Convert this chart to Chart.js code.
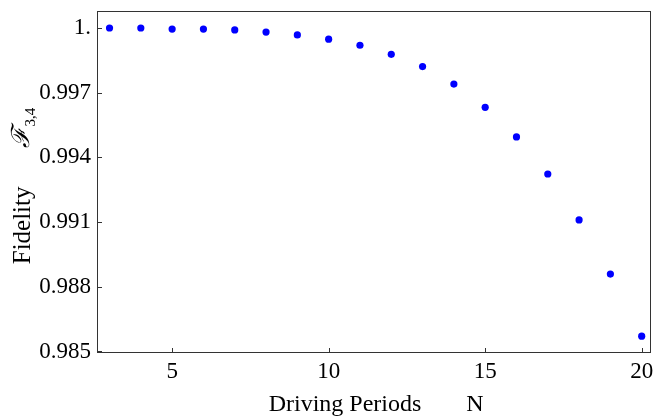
<!DOCTYPE html>
<html>
<head>
<meta charset="utf-8">
<script src="https://cdn.jsdelivr.net/npm/chart.js@4.4.0/dist/chart.umd.min.js"></script>
<style>
  html, body { margin: 0; padding: 0; background: #fff; }
  #wrap { width: 655px; height: 417px; }
</style>
</head>
<body>
<div id="wrap"><canvas id="c" width="655" height="417"></canvas></div>
<script>
const periods = [3, 4, 5, 6, 7, 8, 9, 10, 11, 12, 13, 14, 15, 16, 17, 18, 19, 20];
const fidelity = [1.00000, 1.00000, 0.99995, 0.99995, 0.99991, 0.99981, 0.99968, 0.99948, 0.99920,
                  0.99878, 0.99821, 0.99740, 0.99632, 0.99495, 0.99323, 0.99110, 0.98859, 0.98571];
const xTicks = [5, 10, 15, 20];
const yTicks = [0.985, 0.988, 0.991, 0.994, 0.997, 1.0];
const xTitle = "Driving Periods";
const xSym = "N";
const yTitle = "Fidelity";
const ySym = "\u2131";
const ySub = "3,4";

const FONT = "'Liberation Serif', 'Times New Roman', serif";

const framePlugin = {
  id: 'frame',
  afterDraw(chart) {
    const ctx = chart.ctx, a = chart.chartArea;
    const xs = chart.scales.x, ys = chart.scales.y;
    ctx.save();
    ctx.strokeStyle = '#333';
    ctx.lineWidth = 1;
    ctx.strokeRect(Math.round(a.left) + 0.5, Math.round(a.top) + 0.5,
                   Math.round(a.right - a.left) - 1, Math.round(a.bottom - a.top) - 1);
    ctx.beginPath();
    xTicks.forEach(v => {
      const px = Math.round(xs.getPixelForValue(v)) + 0.5;
      ctx.moveTo(px, a.bottom);
      ctx.lineTo(px, a.bottom - 5);
    });
    yTicks.forEach(v => {
      const py = Math.round(ys.getPixelForValue(v)) + 0.5;
      ctx.moveTo(a.left, py);
      ctx.lineTo(a.left + 5, py);
    });
    ctx.stroke();

    // x title
    ctx.fillStyle = '#000';
    ctx.font = "24px " + FONT;
    ctx.textBaseline = 'alphabetic';
    ctx.textAlign = 'left';
    const gap = 45;
    const w1 = ctx.measureText(xTitle).width;
    const w2 = ctx.measureText(xSym).width;
    const cx = (a.left + a.right) / 2 + 2;
    let sx = cx - (w1 + gap + w2) / 2;
    ctx.fillText(xTitle, sx, 411);
    ctx.fillText(xSym, sx + w1 + gap, 411);

    // y title (rotated)
    ctx.translate(30, 0);
    ctx.rotate(-Math.PI / 2);
    ctx.font = "25px " + FONT;
    const wy1 = ctx.measureText(yTitle).width;
    ctx.font = "italic 25px 'DejaVu Serif', " + FONT;
    const wy2 = ctx.measureText(ySym).width;
    ctx.font = "15px " + FONT;
    const wy3 = ctx.measureText(ySub).width;
    const ygap = 38;
    const total = wy1 + ygap + wy2 + 1 + wy3;
    const cy = (a.top + a.bottom) / 2 + 4;
    let s = -cy - total / 2;
    ctx.font = "25px " + FONT;
    ctx.fillText(yTitle, s, 0);
    s += wy1 + ygap;
    ctx.font = "italic 25px 'DejaVu Serif', " + FONT;
    ctx.fillText(ySym, s, -1);
    s += wy2 + 1;
    ctx.font = "15px " + FONT;
    ctx.fillText(ySub, s, 5);
    ctx.restore();
  }
};

new Chart(document.getElementById('c'), {
  type: 'scatter',
  data: {
    datasets: [{
      data: periods.map((n, i) => ({ x: n, y: fidelity[i] })),
      backgroundColor: '#0000ff',
      borderColor: '#0000ff',
      borderWidth: 0,
      pointRadius: 3.6,
      pointHoverRadius: 3.6
    }]
  },
  options: {
    responsive: false,
    animation: false,
    events: [],
    layout: { padding: { left: 0, right: 3, top: 11, bottom: 0 } },
    plugins: { legend: { display: false }, tooltip: { enabled: false } },
    scales: {
      x: {
        type: 'linear',
        min: 2.6,
        max: 20.31,
        afterBuildTicks: s => { s.ticks = xTicks.map(v => ({ value: v })); },
        afterFit: s => { s.height = 64; s.paddingLeft = 0; s.paddingRight = 0; s.paddingTop = 0; s.paddingBottom = 0; },
        grid: { display: false, drawTicks: false },
        border: { display: false },
        ticks: {
          padding: 5,
          color: '#000',
          font: { family: FONT, size: 23 },
          maxRotation: 0,
          callback: v => String(v)
        }
      },
      y: {
        type: 'linear',
        min: 0.98493,
        max: 1.000788,
        afterBuildTicks: s => { s.ticks = yTicks.map(v => ({ value: v })); },
        afterFit: s => { s.width = 97; s.paddingLeft = 0; s.paddingRight = 0; s.paddingTop = 0; s.paddingBottom = 0; },
        grid: { display: false, drawTicks: false },
        border: { display: false },
        ticks: {
          padding: 6,
          color: '#000',
          font: { family: FONT, size: 23 },
          callback: v => (Math.abs(v - 1) < 1e-9 ? '1.' : v.toFixed(3))
        }
      }
    }
  },
  plugins: [framePlugin]
});
</script>
</body>
</html>
